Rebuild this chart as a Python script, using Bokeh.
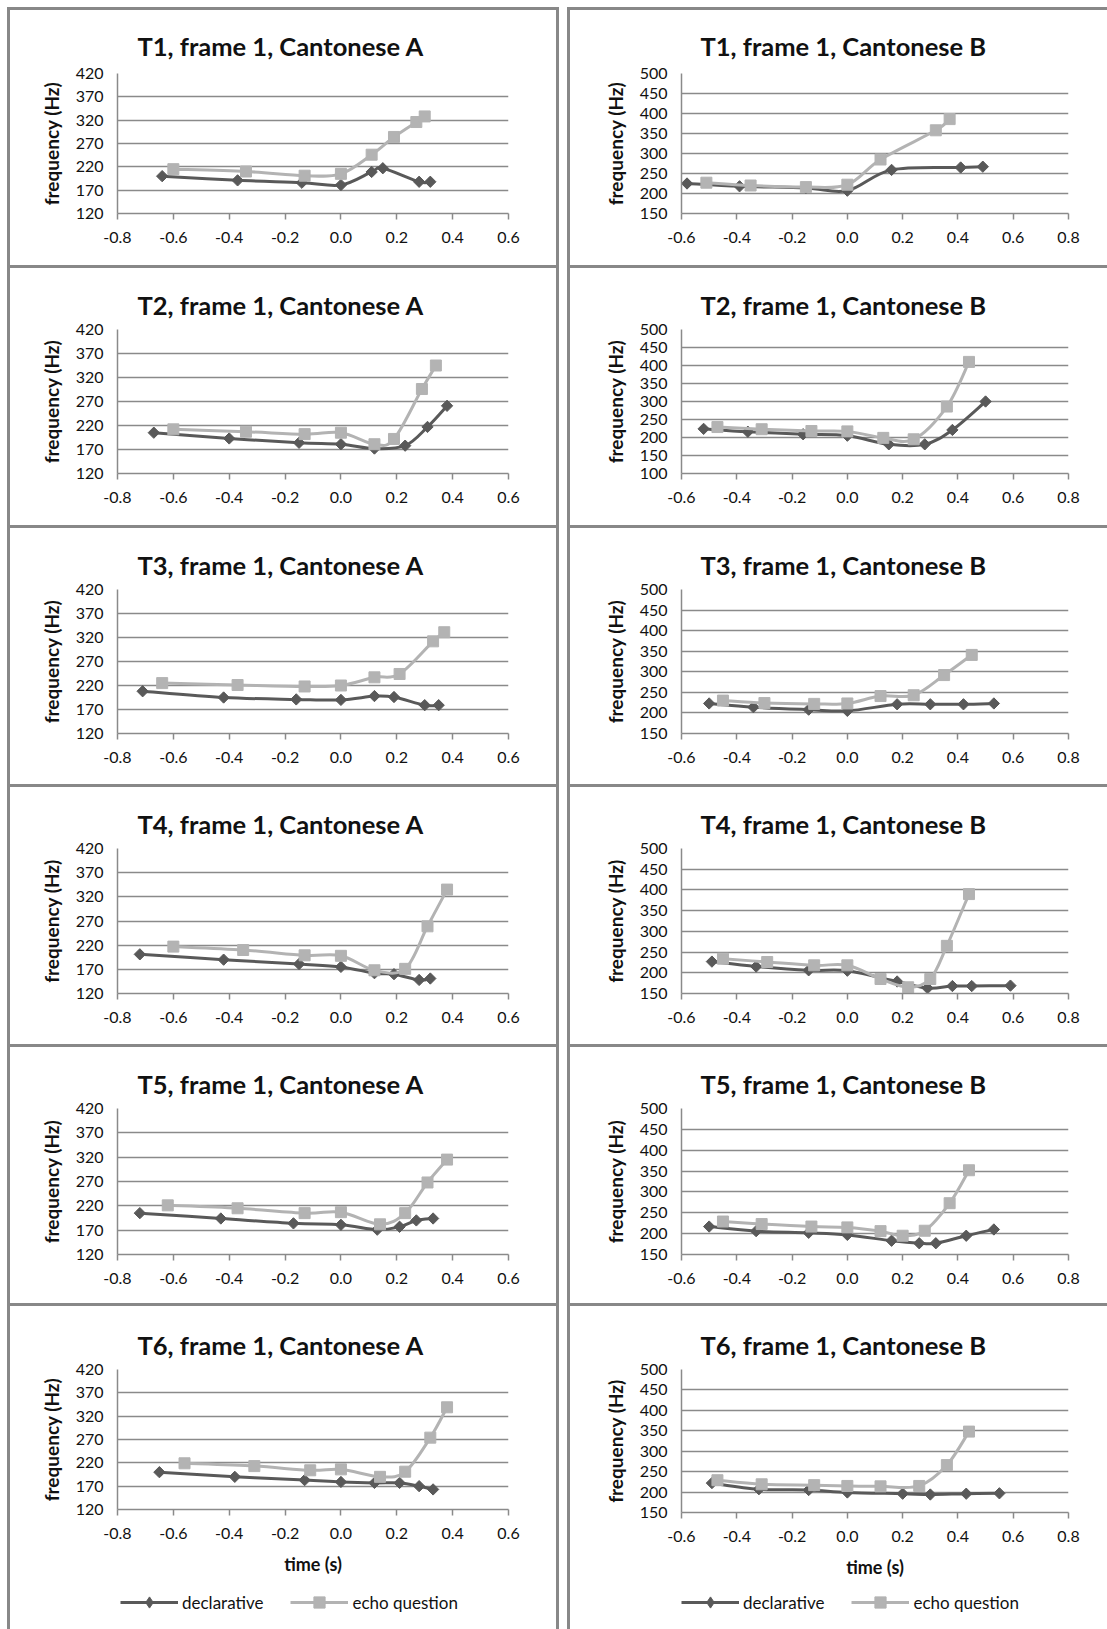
import numpy as np
from bokeh.plotting import figure
from bokeh.layouts import column, row, Spacer
from bokeh.models import (Range1d, FixedTicker, NumeralTickFormatter, Legend,
                          LegendItem)
from bokeh.embed import file_html
from bokeh.resources import INLINE

# ---------------------------------------------------------------- styling
FONT = "Lato"
DECL_COLOR = "#595959"
ECHO_COLOR = "#b3b3b3"
GRID_COLOR = "#8a8a8a"
BORDER = "3px solid #888888"
TEXT_COLOR = "#111111"

# ---------------------------------------------------------------- axes
x_ticks_a = [-0.8, -0.6, -0.4, -0.2, 0.0, 0.2, 0.4, 0.6]
x_ticks_b = [-0.6, -0.4, -0.2, 0.0, 0.2, 0.4, 0.6, 0.8]
y_ticks_a = [120, 170, 220, 270, 320, 370, 420]
y_ticks_b = [150, 200, 250, 300, 350, 400, 450, 500]
y_ticks_b_wide = [100, 150, 200, 250, 300, 350, 400, 450, 500]

series_names = ["declarative", "echo question"]
x_title = "time (s)"
y_title = "frequency (Hz)"

# ---------------------------------------------------------------- data (time in s, F0 in Hz)
t1a_decl_t = [-0.64, -0.37, -0.14, 0.0, 0.11, 0.15, 0.28, 0.32]
t1a_decl_f = [200, 191, 186, 181, 209, 217, 188, 188]
t1a_echo_t = [-0.60, -0.34, -0.13, 0.0, 0.11, 0.19, 0.27, 0.30]
t1a_echo_f = [215, 210, 201, 205, 246, 284, 316, 328]

t1b_decl_t = [-0.58, -0.39, -0.15, 0.0, 0.16, 0.41, 0.49]
t1b_decl_f = [225, 218, 214, 207, 259, 265, 267]
t1b_echo_t = [-0.51, -0.35, -0.15, 0.0, 0.12, 0.32, 0.37]
t1b_echo_f = [227, 220, 216, 222, 285, 358, 386]

t2a_decl_t = [-0.67, -0.40, -0.15, 0.0, 0.12, 0.23, 0.31, 0.38]
t2a_decl_f = [205, 193, 184, 181, 172, 178, 217, 261]
t2a_echo_t = [-0.60, -0.34, -0.13, 0.0, 0.12, 0.19, 0.29, 0.34]
t2a_echo_f = [212, 207, 202, 205, 181, 192, 296, 345]

t2b_decl_t = [-0.52, -0.36, -0.16, 0.0, 0.15, 0.28, 0.38, 0.50]
t2b_decl_f = [224, 216, 209, 205, 181, 181, 221, 300]
t2b_echo_t = [-0.47, -0.31, -0.13, 0.0, 0.13, 0.24, 0.36, 0.44]
t2b_echo_f = [229, 223, 218, 217, 199, 195, 286, 410]

t3a_decl_t = [-0.71, -0.42, -0.16, 0.0, 0.12, 0.19, 0.30, 0.35]
t3a_decl_f = [208, 195, 191, 190, 198, 196, 179, 179]
t3a_echo_t = [-0.64, -0.37, -0.13, 0.0, 0.12, 0.21, 0.33, 0.37]
t3a_echo_f = [225, 221, 218, 220, 237, 244, 312, 331]

t3b_decl_t = [-0.50, -0.34, -0.14, 0.0, 0.18, 0.30, 0.42, 0.53]
t3b_decl_f = [223, 214, 208, 205, 221, 221, 221, 223]
t3b_echo_t = [-0.45, -0.30, -0.12, 0.0, 0.12, 0.24, 0.35, 0.45]
t3b_echo_f = [230, 224, 222, 223, 241, 243, 292, 341]

t4a_decl_t = [-0.72, -0.42, -0.15, 0.0, 0.12, 0.19, 0.28, 0.32]
t4a_decl_f = [201, 190, 181, 175, 162, 160, 148, 151]
t4a_echo_t = [-0.60, -0.35, -0.13, 0.0, 0.12, 0.23, 0.31, 0.38]
t4a_echo_f = [217, 210, 199, 198, 168, 171, 259, 335]

t4b_decl_t = [-0.49, -0.33, -0.14, 0.0, 0.18, 0.29, 0.38, 0.45, 0.59]
t4b_decl_f = [227, 215, 206, 205, 179, 163, 168, 168, 169]
t4b_echo_t = [-0.45, -0.29, -0.12, 0.0, 0.12, 0.22, 0.30, 0.36, 0.44]
t4b_echo_f = [234, 226, 218, 218, 185, 165, 185, 265, 390]

t5a_decl_t = [-0.72, -0.43, -0.17, 0.0, 0.13, 0.21, 0.27, 0.33]
t5a_decl_f = [205, 194, 184, 181, 171, 177, 190, 194]
t5a_echo_t = [-0.62, -0.37, -0.13, 0.0, 0.14, 0.23, 0.31, 0.38]
t5a_echo_f = [221, 215, 205, 207, 182, 205, 268, 315]

t5b_decl_t = [-0.50, -0.33, -0.14, 0.0, 0.16, 0.26, 0.32, 0.43, 0.53]
t5b_decl_f = [217, 206, 202, 197, 183, 177, 177, 195, 210]
t5b_echo_t = [-0.45, -0.31, -0.13, 0.0, 0.12, 0.20, 0.28, 0.37, 0.44]
t5b_echo_f = [229, 223, 217, 215, 206, 195, 207, 273, 352]

t6a_decl_t = [-0.65, -0.38, -0.13, 0.0, 0.12, 0.21, 0.28, 0.33]
t6a_decl_f = [200, 190, 183, 179, 177, 177, 170, 163]
t6a_echo_t = [-0.56, -0.31, -0.11, 0.0, 0.14, 0.23, 0.32, 0.38]
t6a_echo_f = [219, 213, 204, 206, 190, 201, 274, 339]

t6b_decl_t = [-0.49, -0.32, -0.14, 0.0, 0.20, 0.30, 0.43, 0.55]
t6b_decl_f = [222, 207, 205, 199, 196, 194, 196, 197]
t6b_echo_t = [-0.47, -0.31, -0.12, 0.0, 0.12, 0.26, 0.36, 0.44]
t6b_echo_f = [229, 219, 217, 215, 214, 215, 266, 348]

panels = [
    ("T1, frame 1, Cantonese A", t1a_decl_t, t1a_decl_f, t1a_echo_t, t1a_echo_f, x_ticks_a, y_ticks_a),
    ("T1, frame 1, Cantonese B", t1b_decl_t, t1b_decl_f, t1b_echo_t, t1b_echo_f, x_ticks_b, y_ticks_b),
    ("T2, frame 1, Cantonese A", t2a_decl_t, t2a_decl_f, t2a_echo_t, t2a_echo_f, x_ticks_a, y_ticks_a),
    ("T2, frame 1, Cantonese B", t2b_decl_t, t2b_decl_f, t2b_echo_t, t2b_echo_f, x_ticks_b, y_ticks_b_wide),
    ("T3, frame 1, Cantonese A", t3a_decl_t, t3a_decl_f, t3a_echo_t, t3a_echo_f, x_ticks_a, y_ticks_a),
    ("T3, frame 1, Cantonese B", t3b_decl_t, t3b_decl_f, t3b_echo_t, t3b_echo_f, x_ticks_b, y_ticks_b),
    ("T4, frame 1, Cantonese A", t4a_decl_t, t4a_decl_f, t4a_echo_t, t4a_echo_f, x_ticks_a, y_ticks_a),
    ("T4, frame 1, Cantonese B", t4b_decl_t, t4b_decl_f, t4b_echo_t, t4b_echo_f, x_ticks_b, y_ticks_b),
    ("T5, frame 1, Cantonese A", t5a_decl_t, t5a_decl_f, t5a_echo_t, t5a_echo_f, x_ticks_a, y_ticks_a),
    ("T5, frame 1, Cantonese B", t5b_decl_t, t5b_decl_f, t5b_echo_t, t5b_echo_f, x_ticks_b, y_ticks_b),
    ("T6, frame 1, Cantonese A", t6a_decl_t, t6a_decl_f, t6a_echo_t, t6a_echo_f, x_ticks_a, y_ticks_a),
    ("T6, frame 1, Cantonese B", t6b_decl_t, t6b_decl_f, t6b_echo_t, t6b_echo_f, x_ticks_b, y_ticks_b),
]

# outer heights of the panel rows (including the 3px top rule); the bottom
# row is followed by a strip holding the legend
row_heights = [258, 260, 259, 260, 259, 276]
row_frame_top = [63, 61, 61, 61, 61, 63]
frame_height_a = [140, 144, 144, 145, 146, 140]
frame_height_b = [145, 147, 147, 148, 149, 143]
title_standoff = [26, 20, 20, 20, 20, 20]
LEGEND_STRIP = 50
COL_WIDTH = [552, 540]


def smooth(t, f):
    """Cubic Bezier segments through the points (Catmull-Rom style control points)."""
    t = np.asarray(t, float)
    f = np.asarray(f, float)
    n = len(t)
    tp = np.concatenate([[t[0]], t, [t[-1]]])
    fp = np.concatenate([[f[0]], f, [f[-1]]])
    cx0 = t[:-1] + (tp[2:n + 1] - tp[0:n - 1]) / 6.0
    cy0 = f[:-1] + (fp[2:n + 1] - fp[0:n - 1]) / 6.0
    cx1 = t[1:] - (tp[3:n + 2] - tp[1:n]) / 6.0
    cy1 = f[1:] - (fp[3:n + 2] - fp[1:n]) / 6.0
    return dict(x0=t[:-1], y0=f[:-1], x1=t[1:], y1=f[1:],
                cx0=cx0, cy0=cy0, cx1=cx1, cy1=cy1)


def side_borders(col, top=True):
    b = {"border-left": BORDER}
    if top:
        b["border-top"] = BORDER
    if col == 0:
        b["border-right"] = BORDER
    return b


def make_panel(title, dt, df, et, ef, xticks, yticks, col, r):
    last = r == 5
    height = row_heights[r]
    width = COL_WIDTH[col]
    if col == 0:
        mbl, mbr = 107, 54
        top = row_frame_top[r]
        frame_h = frame_height_a[r]
        title_offset = 20
    else:
        mbl, mbr = 111, 42
        top = row_frame_top[r] - (0 if last else 2)
        frame_h = frame_height_b[r]
        title_offset = 19
    p = figure(width=width, height=height, output_backend="svg", toolbar_location=None,
               x_range=Range1d(xticks[0], xticks[-1]),
               y_range=Range1d(yticks[0], yticks[-1]),
               min_border_left=mbl, min_border_right=mbr,
               min_border_top=top, min_border_bottom=height - top - frame_h,
               background_fill_color="white", border_fill_color="white",
               outline_line_color=None, styles=side_borders(col))

    # panel title
    p.title.text = title
    p.title.align = "left"
    p.title.offset = title_offset
    p.title.standoff = title_standoff[r]
    p.title.text_font = FONT
    p.title.text_font_size = "25.5px"
    p.title.text_font_style = "bold"
    p.title.text_color = TEXT_COLOR

    # grid: horizontal lines only
    p.xgrid.visible = False
    p.ygrid.ticker = FixedTicker(ticks=yticks)
    p.ygrid.grid_line_color = GRID_COLOR
    p.ygrid.grid_line_width = 1.5

    xa, ya = p.xaxis[0], p.yaxis[0]
    xa.ticker = FixedTicker(ticks=xticks)
    xa.formatter = NumeralTickFormatter(format="0.0")
    ya.ticker = FixedTicker(ticks=yticks)
    for ax in (xa, ya):
        ax.axis_line_color = GRID_COLOR
        ax.axis_line_width = 1.5
        ax.minor_tick_line_color = None
        ax.major_label_text_font = FONT
        ax.major_label_text_font_size = "16px"
        ax.major_label_text_color = TEXT_COLOR
        ax.axis_label_text_font = FONT
        ax.axis_label_text_font_style = "bold"
        ax.axis_label_text_color = TEXT_COLOR
    xa.major_tick_line_color = GRID_COLOR
    xa.major_tick_line_width = 1.5
    xa.major_tick_in = 0
    xa.major_tick_out = 6
    xa.major_label_standoff = 12
    ya.major_tick_line_color = None
    ya.major_tick_in = 0
    ya.major_tick_out = 0
    ya.major_label_standoff = 14
    ya.axis_label = y_title
    ya.axis_label_text_font_size = "19px"
    ya.axis_label_standoff = 10
    if last:
        xa.axis_label = x_title
        xa.axis_label_text_font_size = "18px"
        xa.axis_label_standoff = 11

    # series: smoothed curves through the points, plus the point markers
    p.bezier(x0="x0", y0="y0", x1="x1", y1="y1", cx0="cx0", cy0="cy0",
             cx1="cx1", cy1="cy1", source=smooth(dt, df), line_color=DECL_COLOR, line_width=3)
    p.scatter(dt, df, marker="square", angle=np.pi / 4, size=8,
              fill_color=DECL_COLOR, line_color=DECL_COLOR)
    p.bezier(x0="x0", y0="y0", x1="x1", y1="y1", cx0="cx0", cy0="cy0",
             cx1="cx1", cy1="cy1", source=smooth(et, ef), line_color=ECHO_COLOR, line_width=3)
    p.scatter(et, ef, marker="square", size=11,
              fill_color=ECHO_COLOR, line_color=ECHO_COLOR)
    return p


def make_legend_strip(col, dt, df, et, ef):
    """Strip under the bottom panel carrying the series key.

    The series are drawn here as well so the key has real renderers, but the
    strip's view window (0..1 Hz) keeps them out of sight.
    """
    lf = figure(width=COL_WIDTH[col], height=LEGEND_STRIP, output_backend="svg",
                toolbar_location=None, x_range=Range1d(0, 1), y_range=Range1d(0, 1),
                min_border=0, outline_line_color=None,
                background_fill_color="white", border_fill_color="white",
                styles=side_borders(col, top=False))
    lf.axis.visible = False
    lf.grid.visible = False
    kd_line = lf.line(dt, df, line_color=DECL_COLOR, line_width=3)
    kd_mark = lf.scatter(dt, df, marker="diamond", fill_color=DECL_COLOR,
                         line_color=DECL_COLOR)
    ke_line = lf.line(et, ef, line_color=ECHO_COLOR, line_width=3)
    ke_mark = lf.scatter(et, ef, marker="square", fill_color=ECHO_COLOR,
                         line_color=ECHO_COLOR)
    legend = Legend(items=[LegendItem(label=series_names[0], renderers=[kd_line, kd_mark]),
                           LegendItem(label=series_names[1], renderers=[ke_line, ke_mark])],
                    orientation="horizontal", location=(3 if col == 0 else 0, 13),
                    border_line_color=None, background_fill_alpha=0,
                    label_text_font=FONT, label_text_font_size="17px",
                    label_text_color=TEXT_COLOR, glyph_width=58, glyph_height=28,
                    label_standoff=4, spacing=27, padding=0, margin=0)
    lf.add_layout(legend)
    return lf


figs = []
for i, (title, dt, df, et, ef, xt, yt) in enumerate(panels):
    figs.append(make_panel(title, dt, df, et, ef, xt, yt, i % 2, i // 2))

rows = [row(figs[2 * r], Spacer(width=8), figs[2 * r + 1], spacing=0) for r in range(5)]
strip_a = make_legend_strip(0, t6a_decl_t, t6a_decl_f, t6a_echo_t, t6a_echo_f)
strip_b = make_legend_strip(1, t6b_decl_t, t6b_decl_f, t6b_echo_t, t6b_echo_f)
rows.append(row(column(figs[10], strip_a, spacing=0), Spacer(width=8),
                column(figs[11], strip_b, spacing=0), spacing=0))
page = row(Spacer(width=7), column(Spacer(height=7), *rows, spacing=0), spacing=0)

open("out.html", "w").write(file_html(page, INLINE, title="F0 contours"))
